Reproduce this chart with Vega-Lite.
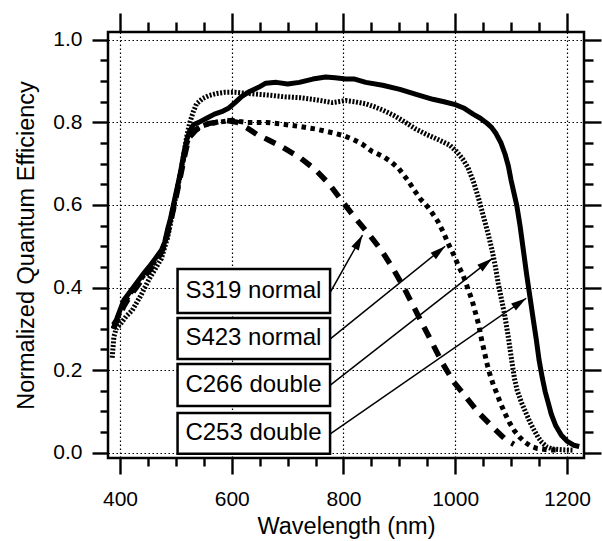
{
  "$schema": "https://vega.github.io/schema/vega-lite/v6.json",
  "width": 476,
  "height": 426,
  "autosize": {"type": "none"},
  "padding": {"left": 108, "top": 32, "right": 18, "bottom": 83},
  "background": "white",
  "config": {
    "view": {"stroke": "black", "strokeWidth": 2.5},
    "font": "Liberation Sans",
    "axis": {
      "labelFont": "Liberation Sans",
      "titleFont": "Liberation Sans",
      "labelColor": "black",
      "titleColor": "black",
      "tickColor": "black",
      "tickWidth": 2.4,
      "domain": false,
      "grid": false,
      "titleFontWeight": "normal"
    }
  },
  "datasets": {
    "qe": [
      {"series": "C253 double", "wavelength": 388, "qe": 0.30},
      {"series": "C253 double", "wavelength": 393, "qe": 0.32},
      {"series": "C253 double", "wavelength": 400, "qe": 0.345},
      {"series": "C253 double", "wavelength": 407, "qe": 0.37},
      {"series": "C253 double", "wavelength": 418, "qe": 0.39},
      {"series": "C253 double", "wavelength": 429, "qe": 0.41},
      {"series": "C253 double", "wavelength": 440, "qe": 0.43},
      {"series": "C253 double", "wavelength": 452, "qe": 0.45},
      {"series": "C253 double", "wavelength": 463, "qe": 0.47},
      {"series": "C253 double", "wavelength": 474, "qe": 0.49},
      {"series": "C253 double", "wavelength": 480, "qe": 0.51},
      {"series": "C253 double", "wavelength": 485, "qe": 0.54},
      {"series": "C253 double", "wavelength": 490, "qe": 0.565},
      {"series": "C253 double", "wavelength": 494, "qe": 0.59},
      {"series": "C253 double", "wavelength": 498, "qe": 0.615},
      {"series": "C253 double", "wavelength": 502, "qe": 0.64},
      {"series": "C253 double", "wavelength": 506, "qe": 0.665},
      {"series": "C253 double", "wavelength": 509, "qe": 0.685},
      {"series": "C253 double", "wavelength": 515, "qe": 0.73},
      {"series": "C253 double", "wavelength": 520, "qe": 0.76},
      {"series": "C253 double", "wavelength": 525, "qe": 0.78},
      {"series": "C253 double", "wavelength": 532, "qe": 0.795},
      {"series": "C253 double", "wavelength": 541, "qe": 0.80},
      {"series": "C253 double", "wavelength": 555, "qe": 0.81},
      {"series": "C253 double", "wavelength": 569, "qe": 0.82},
      {"series": "C253 double", "wavelength": 582, "qe": 0.826},
      {"series": "C253 double", "wavelength": 595, "qe": 0.835},
      {"series": "C253 double", "wavelength": 606, "qe": 0.848},
      {"series": "C253 double", "wavelength": 617, "qe": 0.862},
      {"series": "C253 double", "wavelength": 632, "qe": 0.875},
      {"series": "C253 double", "wavelength": 648, "qe": 0.885},
      {"series": "C253 double", "wavelength": 661, "qe": 0.895},
      {"series": "C253 double", "wavelength": 680, "qe": 0.897},
      {"series": "C253 double", "wavelength": 700, "qe": 0.893},
      {"series": "C253 double", "wavelength": 721, "qe": 0.897},
      {"series": "C253 double", "wavelength": 745, "qe": 0.905},
      {"series": "C253 double", "wavelength": 768, "qe": 0.91},
      {"series": "C253 double", "wavelength": 785, "qe": 0.908},
      {"series": "C253 double", "wavelength": 804, "qe": 0.905},
      {"series": "C253 double", "wavelength": 820, "qe": 0.905},
      {"series": "C253 double", "wavelength": 840, "qe": 0.897},
      {"series": "C253 double", "wavelength": 870, "qe": 0.89},
      {"series": "C253 double", "wavelength": 901, "qe": 0.88},
      {"series": "C253 double", "wavelength": 930, "qe": 0.868},
      {"series": "C253 double", "wavelength": 960, "qe": 0.856},
      {"series": "C253 double", "wavelength": 980, "qe": 0.85},
      {"series": "C253 double", "wavelength": 1000, "qe": 0.843},
      {"series": "C253 double", "wavelength": 1015, "qe": 0.835},
      {"series": "C253 double", "wavelength": 1032, "qe": 0.82},
      {"series": "C253 double", "wavelength": 1045, "qe": 0.81},
      {"series": "C253 double", "wavelength": 1055, "qe": 0.80},
      {"series": "C253 double", "wavelength": 1065, "qe": 0.788},
      {"series": "C253 double", "wavelength": 1073, "qe": 0.773},
      {"series": "C253 double", "wavelength": 1082, "qe": 0.75},
      {"series": "C253 double", "wavelength": 1089, "qe": 0.724},
      {"series": "C253 double", "wavelength": 1095, "qe": 0.695},
      {"series": "C253 double", "wavelength": 1100, "qe": 0.66},
      {"series": "C253 double", "wavelength": 1105, "qe": 0.63},
      {"series": "C253 double", "wavelength": 1110, "qe": 0.60},
      {"series": "C253 double", "wavelength": 1116, "qe": 0.55},
      {"series": "C253 double", "wavelength": 1122, "qe": 0.49},
      {"series": "C253 double", "wavelength": 1128, "qe": 0.43},
      {"series": "C253 double", "wavelength": 1134, "qe": 0.375},
      {"series": "C253 double", "wavelength": 1140, "qe": 0.32},
      {"series": "C253 double", "wavelength": 1145, "qe": 0.275},
      {"series": "C253 double", "wavelength": 1150, "qe": 0.225},
      {"series": "C253 double", "wavelength": 1156, "qe": 0.18},
      {"series": "C253 double", "wavelength": 1161, "qe": 0.148},
      {"series": "C253 double", "wavelength": 1167, "qe": 0.118},
      {"series": "C253 double", "wavelength": 1172, "qe": 0.093},
      {"series": "C253 double", "wavelength": 1180, "qe": 0.065},
      {"series": "C253 double", "wavelength": 1190, "qe": 0.042},
      {"series": "C253 double", "wavelength": 1200, "qe": 0.028},
      {"series": "C253 double", "wavelength": 1212, "qe": 0.018},
      {"series": "C253 double", "wavelength": 1222, "qe": 0.015},

      {"series": "C266 double", "wavelength": 386, "qe": 0.23},
      {"series": "C266 double", "wavelength": 389, "qe": 0.28},
      {"series": "C266 double", "wavelength": 393, "qe": 0.30},
      {"series": "C266 double", "wavelength": 400, "qe": 0.31},
      {"series": "C266 double", "wavelength": 411, "qe": 0.33},
      {"series": "C266 double", "wavelength": 422, "qe": 0.345},
      {"series": "C266 double", "wavelength": 437, "qe": 0.38},
      {"series": "C266 double", "wavelength": 452, "qe": 0.42},
      {"series": "C266 double", "wavelength": 463, "qe": 0.445},
      {"series": "C266 double", "wavelength": 474, "qe": 0.47},
      {"series": "C266 double", "wavelength": 485, "qe": 0.52},
      {"series": "C266 double", "wavelength": 494, "qe": 0.58},
      {"series": "C266 double", "wavelength": 502, "qe": 0.635},
      {"series": "C266 double", "wavelength": 509, "qe": 0.68},
      {"series": "C266 double", "wavelength": 515, "qe": 0.73},
      {"series": "C266 double", "wavelength": 520, "qe": 0.77},
      {"series": "C266 double", "wavelength": 525, "qe": 0.80},
      {"series": "C266 double", "wavelength": 531, "qe": 0.825},
      {"series": "C266 double", "wavelength": 537, "qe": 0.845},
      {"series": "C266 double", "wavelength": 548, "qe": 0.858},
      {"series": "C266 double", "wavelength": 559, "qe": 0.865},
      {"series": "C266 double", "wavelength": 573, "qe": 0.87},
      {"series": "C266 double", "wavelength": 588, "qe": 0.873},
      {"series": "C266 double", "wavelength": 606, "qe": 0.873},
      {"series": "C266 double", "wavelength": 630, "qe": 0.87},
      {"series": "C266 double", "wavelength": 648, "qe": 0.868},
      {"series": "C266 double", "wavelength": 667, "qe": 0.866},
      {"series": "C266 double", "wavelength": 695, "qe": 0.862},
      {"series": "C266 double", "wavelength": 721, "qe": 0.86},
      {"series": "C266 double", "wavelength": 750, "qe": 0.855},
      {"series": "C266 double", "wavelength": 780, "qe": 0.848},
      {"series": "C266 double", "wavelength": 804, "qe": 0.853},
      {"series": "C266 double", "wavelength": 820, "qe": 0.85},
      {"series": "C266 double", "wavelength": 840, "qe": 0.845},
      {"series": "C266 double", "wavelength": 855, "qe": 0.838},
      {"series": "C266 double", "wavelength": 870, "qe": 0.83},
      {"series": "C266 double", "wavelength": 890, "qe": 0.817},
      {"series": "C266 double", "wavelength": 911, "qe": 0.80},
      {"series": "C266 double", "wavelength": 928, "qe": 0.785},
      {"series": "C266 double", "wavelength": 950, "qe": 0.77},
      {"series": "C266 double", "wavelength": 970, "qe": 0.758},
      {"series": "C266 double", "wavelength": 990, "qe": 0.745},
      {"series": "C266 double", "wavelength": 1002, "qe": 0.73},
      {"series": "C266 double", "wavelength": 1013, "qe": 0.712},
      {"series": "C266 double", "wavelength": 1023, "qe": 0.69},
      {"series": "C266 double", "wavelength": 1033, "qe": 0.655},
      {"series": "C266 double", "wavelength": 1042, "qe": 0.615},
      {"series": "C266 double", "wavelength": 1050, "qe": 0.575},
      {"series": "C266 double", "wavelength": 1058, "qe": 0.535},
      {"series": "C266 double", "wavelength": 1066, "qe": 0.49},
      {"series": "C266 double", "wavelength": 1072, "qe": 0.45},
      {"series": "C266 double", "wavelength": 1077, "qe": 0.41},
      {"series": "C266 double", "wavelength": 1083, "qe": 0.37},
      {"series": "C266 double", "wavelength": 1089, "qe": 0.33},
      {"series": "C266 double", "wavelength": 1095, "qe": 0.28},
      {"series": "C266 double", "wavelength": 1102, "qe": 0.215},
      {"series": "C266 double", "wavelength": 1106, "qe": 0.18},
      {"series": "C266 double", "wavelength": 1111, "qe": 0.15},
      {"series": "C266 double", "wavelength": 1119, "qe": 0.12},
      {"series": "C266 double", "wavelength": 1127, "qe": 0.095},
      {"series": "C266 double", "wavelength": 1134, "qe": 0.073},
      {"series": "C266 double", "wavelength": 1141, "qe": 0.055},
      {"series": "C266 double", "wavelength": 1148, "qe": 0.038},
      {"series": "C266 double", "wavelength": 1155, "qe": 0.025},
      {"series": "C266 double", "wavelength": 1164, "qe": 0.014},
      {"series": "C266 double", "wavelength": 1173, "qe": 0.009},
      {"series": "C266 double", "wavelength": 1190, "qe": 0.007},
      {"series": "C266 double", "wavelength": 1210, "qe": 0.006},

      {"series": "S423 normal", "wavelength": 388, "qe": 0.31},
      {"series": "S423 normal", "wavelength": 393, "qe": 0.32},
      {"series": "S423 normal", "wavelength": 400, "qe": 0.34},
      {"series": "S423 normal", "wavelength": 407, "qe": 0.36},
      {"series": "S423 normal", "wavelength": 418, "qe": 0.385},
      {"series": "S423 normal", "wavelength": 429, "qe": 0.405},
      {"series": "S423 normal", "wavelength": 440, "qe": 0.425},
      {"series": "S423 normal", "wavelength": 452, "qe": 0.445},
      {"series": "S423 normal", "wavelength": 463, "qe": 0.465},
      {"series": "S423 normal", "wavelength": 474, "qe": 0.485},
      {"series": "S423 normal", "wavelength": 480, "qe": 0.505},
      {"series": "S423 normal", "wavelength": 485, "qe": 0.535},
      {"series": "S423 normal", "wavelength": 490, "qe": 0.56},
      {"series": "S423 normal", "wavelength": 494, "qe": 0.585},
      {"series": "S423 normal", "wavelength": 502, "qe": 0.635},
      {"series": "S423 normal", "wavelength": 509, "qe": 0.68},
      {"series": "S423 normal", "wavelength": 515, "qe": 0.72},
      {"series": "S423 normal", "wavelength": 520, "qe": 0.75},
      {"series": "S423 normal", "wavelength": 525, "qe": 0.77},
      {"series": "S423 normal", "wavelength": 532, "qe": 0.78},
      {"series": "S423 normal", "wavelength": 545, "qe": 0.79},
      {"series": "S423 normal", "wavelength": 560, "qe": 0.797},
      {"series": "S423 normal", "wavelength": 574, "qe": 0.80},
      {"series": "S423 normal", "wavelength": 600, "qe": 0.805},
      {"series": "S423 normal", "wavelength": 626, "qe": 0.80},
      {"series": "S423 normal", "wavelength": 645, "qe": 0.80},
      {"series": "S423 normal", "wavelength": 662, "qe": 0.80},
      {"series": "S423 normal", "wavelength": 690, "qe": 0.796},
      {"series": "S423 normal", "wavelength": 722, "qe": 0.79},
      {"series": "S423 normal", "wavelength": 750, "qe": 0.784},
      {"series": "S423 normal", "wavelength": 780, "qe": 0.775},
      {"series": "S423 normal", "wavelength": 800, "qe": 0.768},
      {"series": "S423 normal", "wavelength": 815, "qe": 0.76},
      {"series": "S423 normal", "wavelength": 833, "qe": 0.748},
      {"series": "S423 normal", "wavelength": 851, "qe": 0.73},
      {"series": "S423 normal", "wavelength": 870, "qe": 0.718},
      {"series": "S423 normal", "wavelength": 885, "qe": 0.705},
      {"series": "S423 normal", "wavelength": 899, "qe": 0.688},
      {"series": "S423 normal", "wavelength": 915, "qe": 0.66},
      {"series": "S423 normal", "wavelength": 927, "qe": 0.635},
      {"series": "S423 normal", "wavelength": 938, "qe": 0.614},
      {"series": "S423 normal", "wavelength": 951, "qe": 0.595},
      {"series": "S423 normal", "wavelength": 960, "qe": 0.578},
      {"series": "S423 normal", "wavelength": 969, "qe": 0.56},
      {"series": "S423 normal", "wavelength": 979, "qe": 0.533},
      {"series": "S423 normal", "wavelength": 988, "qe": 0.505},
      {"series": "S423 normal", "wavelength": 997, "qe": 0.48},
      {"series": "S423 normal", "wavelength": 1005, "qe": 0.455},
      {"series": "S423 normal", "wavelength": 1014, "qe": 0.43},
      {"series": "S423 normal", "wavelength": 1022, "qe": 0.40},
      {"series": "S423 normal", "wavelength": 1030, "qe": 0.37},
      {"series": "S423 normal", "wavelength": 1036, "qe": 0.34},
      {"series": "S423 normal", "wavelength": 1042, "qe": 0.31},
      {"series": "S423 normal", "wavelength": 1047, "qe": 0.275},
      {"series": "S423 normal", "wavelength": 1052, "qe": 0.245},
      {"series": "S423 normal", "wavelength": 1057, "qe": 0.215},
      {"series": "S423 normal", "wavelength": 1062, "qe": 0.19},
      {"series": "S423 normal", "wavelength": 1068, "qe": 0.165},
      {"series": "S423 normal", "wavelength": 1074, "qe": 0.145},
      {"series": "S423 normal", "wavelength": 1081, "qe": 0.12},
      {"series": "S423 normal", "wavelength": 1089, "qe": 0.095},
      {"series": "S423 normal", "wavelength": 1097, "qe": 0.073},
      {"series": "S423 normal", "wavelength": 1106, "qe": 0.053},
      {"series": "S423 normal", "wavelength": 1115, "qe": 0.038},
      {"series": "S423 normal", "wavelength": 1125, "qe": 0.025},
      {"series": "S423 normal", "wavelength": 1136, "qe": 0.015},
      {"series": "S423 normal", "wavelength": 1147, "qe": 0.01},
      {"series": "S423 normal", "wavelength": 1165, "qe": 0.007},
      {"series": "S423 normal", "wavelength": 1185, "qe": 0.006},

      {"series": "S319 normal", "wavelength": 388, "qe": 0.30},
      {"series": "S319 normal", "wavelength": 393, "qe": 0.315},
      {"series": "S319 normal", "wavelength": 400, "qe": 0.335},
      {"series": "S319 normal", "wavelength": 407, "qe": 0.355},
      {"series": "S319 normal", "wavelength": 418, "qe": 0.38},
      {"series": "S319 normal", "wavelength": 429, "qe": 0.40},
      {"series": "S319 normal", "wavelength": 440, "qe": 0.42},
      {"series": "S319 normal", "wavelength": 452, "qe": 0.44},
      {"series": "S319 normal", "wavelength": 463, "qe": 0.46},
      {"series": "S319 normal", "wavelength": 474, "qe": 0.485},
      {"series": "S319 normal", "wavelength": 480, "qe": 0.505},
      {"series": "S319 normal", "wavelength": 485, "qe": 0.53},
      {"series": "S319 normal", "wavelength": 490, "qe": 0.555},
      {"series": "S319 normal", "wavelength": 494, "qe": 0.58},
      {"series": "S319 normal", "wavelength": 502, "qe": 0.63},
      {"series": "S319 normal", "wavelength": 509, "qe": 0.675},
      {"series": "S319 normal", "wavelength": 515, "qe": 0.715},
      {"series": "S319 normal", "wavelength": 520, "qe": 0.745},
      {"series": "S319 normal", "wavelength": 525, "qe": 0.765},
      {"series": "S319 normal", "wavelength": 535, "qe": 0.78},
      {"series": "S319 normal", "wavelength": 545, "qe": 0.79},
      {"series": "S319 normal", "wavelength": 558, "qe": 0.797},
      {"series": "S319 normal", "wavelength": 571, "qe": 0.80},
      {"series": "S319 normal", "wavelength": 590, "qe": 0.805},
      {"series": "S319 normal", "wavelength": 610, "qe": 0.80},
      {"series": "S319 normal", "wavelength": 628, "qe": 0.786},
      {"series": "S319 normal", "wavelength": 646, "qe": 0.77},
      {"series": "S319 normal", "wavelength": 665, "qe": 0.758},
      {"series": "S319 normal", "wavelength": 691, "qe": 0.74},
      {"series": "S319 normal", "wavelength": 722, "qe": 0.715},
      {"series": "S319 normal", "wavelength": 750, "qe": 0.685},
      {"series": "S319 normal", "wavelength": 775, "qe": 0.65},
      {"series": "S319 normal", "wavelength": 797, "qe": 0.61},
      {"series": "S319 normal", "wavelength": 820, "qe": 0.57},
      {"series": "S319 normal", "wavelength": 845, "qe": 0.53},
      {"series": "S319 normal", "wavelength": 868, "qe": 0.49},
      {"series": "S319 normal", "wavelength": 889, "qe": 0.445},
      {"series": "S319 normal", "wavelength": 908, "qe": 0.40},
      {"series": "S319 normal", "wavelength": 927, "qe": 0.35},
      {"series": "S319 normal", "wavelength": 942, "qe": 0.31},
      {"series": "S319 normal", "wavelength": 959, "qe": 0.265},
      {"series": "S319 normal", "wavelength": 977, "qe": 0.217},
      {"series": "S319 normal", "wavelength": 998, "qe": 0.17},
      {"series": "S319 normal", "wavelength": 1022, "qe": 0.13},
      {"series": "S319 normal", "wavelength": 1043, "qe": 0.095},
      {"series": "S319 normal", "wavelength": 1070, "qe": 0.058},
      {"series": "S319 normal", "wavelength": 1090, "qe": 0.032},
      {"series": "S319 normal", "wavelength": 1105, "qe": 0.02}
    ],
    "labels": [
      {"label": "S319 normal", "x0": 503, "x1": 776, "y0": 0.338, "y1": 0.445, "tx": 517, "ty": 0.3915, "sx": 777, "sy": 0.39, "ex": 834, "ey": 0.527},
      {"label": "S423 normal", "x0": 503, "x1": 776, "y0": 0.227, "y1": 0.326, "tx": 517, "ty": 0.2765, "sx": 777, "sy": 0.276, "ex": 982, "ey": 0.50},
      {"label": "C266 double", "x0": 503, "x1": 776, "y0": 0.113, "y1": 0.215, "tx": 517, "ty": 0.164, "sx": 777, "sy": 0.164, "ex": 1066, "ey": 0.47},
      {"label": "C253 double", "x0": 503, "x1": 776, "y0": -0.003, "y1": 0.096, "tx": 517, "ty": 0.0465, "sx": 777, "sy": 0.046, "ex": 1127, "ey": 0.374}
    ]
  },
  "layer": [
    {
      "data": {"name": "qe"},
      "transform": [{"filter": "datum.series === 'C253 double'"}],
      "mark": {"type": "line", "color": "black", "strokeWidth": 5, "strokeJoin": "round"},
      "encoding": {
        "x": {"field": "wavelength", "type": "quantitative",
              "scale": {"domain": [378.5, 1230.5], "nice": false, "zero": false},
              "axis": {"orient": "bottom", "values": [400, 600, 800, 1000, 1200], "format": "d",
                       "title": "Wavelength (nm)", "titleFontSize": 23.5, "labelFontSize": 21,
                       "tickSize": 16, "labelPadding": 14, "titlePadding": 5, "labelFlush": false,
                       "grid": true, "gridColor": "black", "gridDash": [1.5, 2.5], "gridWidth": 1.2, "gridOpacity": 1}},
        "y": {"field": "qe", "type": "quantitative",
              "scale": {"domain": [-0.013, 1.019], "nice": false, "zero": false},
              "axis": {"orient": "left", "values": [0, 0.2, 0.4, 0.6, 0.8, 1.0], "format": ".1f",
                       "title": "Normalized Quantum Efficiency", "titleFontSize": 23.5, "labelFontSize": 21,
                       "tickSize": 16, "labelPadding": 10, "titlePadding": 14, "labelFlush": false,
                       "grid": true, "gridColor": "black", "gridDash": [1.5, 2.5], "gridWidth": 1.2, "gridOpacity": 1}}
      }
    },
    {
      "data": {"name": "qe"},
      "transform": [{"filter": "datum.series === 'C266 double'"}],
      "mark": {"type": "line", "color": "black", "strokeWidth": 5, "strokeDash": [2, 1.6]},
      "encoding": {
        "x": {"field": "wavelength", "type": "quantitative",
              "scale": {"domain": [378.5, 1230.5], "nice": false, "zero": false},
              "axis": {"orient": "top", "values": [400, 600, 800, 1000, 1200], "labels": false, "title": null, "tickSize": 19}},
        "y": {"field": "qe", "type": "quantitative",
              "scale": {"domain": [-0.013, 1.019], "nice": false, "zero": false},
              "axis": {"orient": "right", "values": [0, 0.2, 0.4, 0.6, 0.8, 1.0], "labels": false, "title": null, "tickSize": 17}}
      }
    },
    {
      "data": {"name": "qe"},
      "transform": [{"filter": "datum.series === 'S423 normal'"}],
      "mark": {"type": "line", "color": "black", "strokeWidth": 5, "strokeDash": [4.5, 4.5]},
      "encoding": {
        "x": {"field": "wavelength", "type": "quantitative",
              "scale": {"domain": [378.5, 1230.5], "nice": false, "zero": false},
              "axis": {"orient": "bottom", "values": [450, 500, 550, 650, 700, 750, 850, 900, 950, 1050, 1100, 1150],
                       "labels": false, "title": null, "tickSize": 8}},
        "y": {"field": "qe", "type": "quantitative",
              "scale": {"domain": [-0.013, 1.019], "nice": false, "zero": false},
              "axis": {"orient": "left", "values": [0.05, 0.1, 0.15, 0.25, 0.3, 0.35, 0.45, 0.5, 0.55, 0.65, 0.7, 0.75, 0.85, 0.9, 0.95],
                       "labels": false, "title": null, "tickSize": 8}}
      }
    },
    {
      "data": {"name": "qe"},
      "transform": [{"filter": "datum.series === 'S319 normal'"}],
      "mark": {"type": "line", "color": "black", "strokeWidth": 5.5, "strokeDash": [12, 9]},
      "encoding": {
        "x": {"field": "wavelength", "type": "quantitative",
              "scale": {"domain": [378.5, 1230.5], "nice": false, "zero": false},
              "axis": {"orient": "top", "values": [450, 500, 550, 650, 700, 750, 850, 900, 950, 1050, 1100, 1150],
                       "labels": false, "title": null, "tickSize": 10}},
        "y": {"field": "qe", "type": "quantitative",
              "scale": {"domain": [-0.013, 1.019], "nice": false, "zero": false},
              "axis": {"orient": "right", "values": [0.05, 0.1, 0.15, 0.25, 0.3, 0.35, 0.45, 0.5, 0.55, 0.65, 0.7, 0.75, 0.85, 0.9, 0.95],
                       "labels": false, "title": null, "tickSize": 9}}
      }
    },
    {
      "data": {"name": "labels"},
      "mark": {"type": "rect", "fill": "white", "stroke": "black", "strokeWidth": 2.5},
      "encoding": {
        "x": {"field": "x0", "type": "quantitative", "axis": null},
        "x2": {"field": "x1"},
        "y": {"field": "y0", "type": "quantitative", "axis": null},
        "y2": {"field": "y1"}
      }
    },
    {
      "data": {"name": "labels"},
      "mark": {"type": "text", "font": "Liberation Sans", "fontSize": 24, "align": "left", "baseline": "middle", "color": "black"},
      "encoding": {
        "x": {"field": "tx", "type": "quantitative", "axis": null},
        "y": {"field": "ty", "type": "quantitative", "axis": null},
        "text": {"field": "label"}
      }
    },
    {
      "data": {"name": "labels"},
      "mark": {"type": "rule", "color": "black", "strokeWidth": 1.5},
      "encoding": {
        "x": {"field": "sx", "type": "quantitative", "axis": null},
        "y": {"field": "sy", "type": "quantitative", "axis": null},
        "x2": {"field": "ex"},
        "y2": {"field": "ey"}
      }
    },
    {
      "data": {"name": "labels"},
      "transform": [{"filter": "datum.label === 'S319 normal'"}],
      "mark": {"type": "point", "shape": "M0,0L0.6,2.2L-0.6,2.2Z", "size": 196, "filled": true, "color": "black", "opacity": 1, "strokeWidth": 0, "angle": 28.6},
      "encoding": {
        "x": {"field": "ex", "type": "quantitative", "axis": null},
        "y": {"field": "ey", "type": "quantitative", "axis": null}
      }
    },
    {
      "data": {"name": "labels"},
      "transform": [{"filter": "datum.label === 'S423 normal'"}],
      "mark": {"type": "point", "shape": "M0,0L0.6,2.2L-0.6,2.2Z", "size": 196, "filled": true, "color": "black", "opacity": 1, "strokeWidth": 0, "angle": 50.5},
      "encoding": {
        "x": {"field": "ex", "type": "quantitative", "axis": null},
        "y": {"field": "ey", "type": "quantitative", "axis": null}
      }
    },
    {
      "data": {"name": "labels"},
      "transform": [{"filter": "datum.label === 'C266 double'"}],
      "mark": {"type": "point", "shape": "M0,0L0.6,2.2L-0.6,2.2Z", "size": 196, "filled": true, "color": "black", "opacity": 1, "strokeWidth": 0, "angle": 52},
      "encoding": {
        "x": {"field": "ex", "type": "quantitative", "axis": null},
        "y": {"field": "ey", "type": "quantitative", "axis": null}
      }
    },
    {
      "data": {"name": "labels"},
      "transform": [{"filter": "datum.label === 'C253 double'"}],
      "mark": {"type": "point", "shape": "M0,0L0.6,2.2L-0.6,2.2Z", "size": 196, "filled": true, "color": "black", "opacity": 1, "strokeWidth": 0, "angle": 55.3},
      "encoding": {
        "x": {"field": "ex", "type": "quantitative", "axis": null},
        "y": {"field": "ey", "type": "quantitative", "axis": null}
      }
    }
  ],
  "resolve": {"axis": {"x": "independent", "y": "independent"}}
}
